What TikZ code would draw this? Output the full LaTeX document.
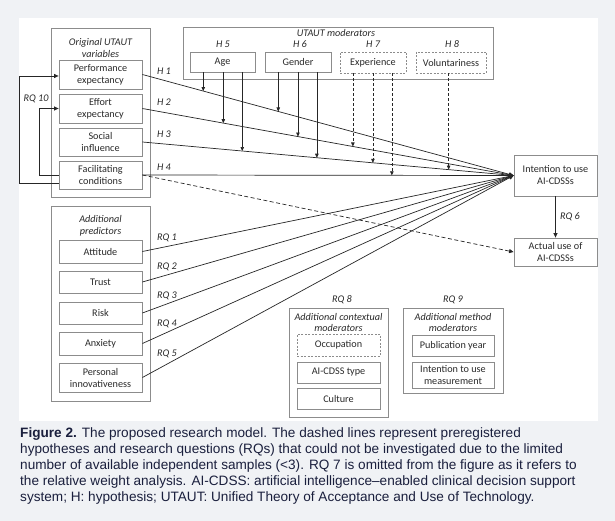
\documentclass[tikz,border=0pt]{standalone}
\usepackage{fontspec}
\setmainfont{Carlito}
\newfontfamily\capfont{Liberation Sans}
\usetikzlibrary{arrows.meta,calc}
\definecolor{bgcol}{HTML}{F0F2F5}
\definecolor{capcol}{HTML}{1A1F3D}
\definecolor{boxcol}{HTML}{8C8C8C}
\definecolor{linecol}{HTML}{262626}
\definecolor{txtcol}{HTML}{2A2A2A}
\begin{document}
\begin{tikzpicture}[x=1pt,y=-1pt,
  grp/.style={draw=boxcol,line width=0.8pt},
  vbox/.style={draw=boxcol,line width=0.8pt,minimum width=83pt,inner sep=1pt,align=center,
    font=\fontsize{10.2}{12}\selectfont,text=txtcol},
  dbox/.style={vbox,dashed,dash pattern=on 2pt off 1.5pt},
  ttl/.style={font=\fontsize{10.2}{11.5}\selectfont\itshape,text=txtcol,align=center,inner sep=0pt},
  lbl/.style={font=\fontsize{10.2}{12}\selectfont\itshape,text=txtcol,inner sep=0pt},
  link/.style={draw=linecol,line width=0.7pt,-{Triangle[length=4.5pt,width=4pt]}},
  dlink/.style={link,dash pattern=on 4pt off 2.5pt},
  marr/.style={draw=linecol,line width=0.7pt,-{Triangle[length=4pt,width=3.5pt]}},
  dmarr/.style={marr,dash pattern=on 3pt off 2pt},
  capline/.style={anchor=base west,inner sep=0pt,text=capcol,font=\capfont\fontsize{13.6}{16}\selectfont}
]
\useasboundingbox (0,0) rectangle (615,521);
\fill[bgcol] (0,0) rectangle (615,521);
\fill[white] (19,18) rectangle (598,421);

% group boxes
\draw[grp] (51,28) rectangle (150,197);
\draw[grp] (51,206) rectangle (150,401);
\draw[grp] (183,27) rectangle (493,79);
\draw[grp] (289,308) rectangle (388,417);
\draw[grp] (403,308) rectangle (503,393);

% group titles
\node[ttl] (t1) at (100.5,48) {Original UTAUT\\variables};
\node[ttl] (t2) at (100.5,226) {Additional\\predictors};
\node[ttl] (t3) at (336,32.5) {UTAUT moderators};
\node[ttl] (t4) at (338.5,322.5) {Additional contextual\\moderators};
\node[ttl] (t5) at (453,322.5) {Additional method\\moderators};

% original UTAUT variables
\node[vbox,minimum height=29pt] (pe) at (100.5,74.5) {Performance\\expectancy};
\node[vbox,minimum height=29pt] (ee) at (100.5,108.5) {Effort\\expectancy};
\node[vbox,minimum height=28pt] (si) at (100.5,142) {Social\\influence};
\node[vbox,minimum height=28pt] (fc) at (100.5,175) {Facilitating\\conditions};

% additional predictors
\node[vbox,minimum height=23pt] (att) at (100.5,251.5) {Attitude};
\node[vbox,minimum height=22pt] (tru) at (100.5,282) {Trust};
\node[vbox,minimum height=22pt] (ris) at (100.5,313) {Risk};
\node[vbox,minimum height=23pt] (anx) at (100.5,343.5) {Anxiety};
\node[vbox,minimum height=29pt] (pin) at (100.5,377.5) {Personal\\innovativeness};

% moderators
\node[vbox,minimum width=65pt,minimum height=20pt] (age) at (222.5,62) {Age};
\node[vbox,minimum width=66pt,minimum height=20pt] (gen) at (298,62) {Gender};
\node[dbox,minimum width=66pt,minimum height=21pt] (exp) at (373,62.5) {Experience};
\node[dbox,minimum width=70pt,minimum height=21pt] (vol) at (451,62.5) {Voluntariness};
\node[lbl] (h5) at (223,44) {H 5};
\node[lbl] (h6) at (300,44) {H 6};
\node[lbl] (h7) at (373,44) {H 7};
\node[lbl] (h8) at (452,44) {H 8};

% outcomes
\node[vbox,minimum height=41pt] (int) at (555.5,175.5) {Intention to use\\AI-CDSSs};
\node[vbox,minimum height=28pt] (act) at (555.5,252) {Actual use of\\AI-CDSSs};

% contextual / method moderators
\node[dbox,minimum height=22pt] (occ) at (338.5,345) {Occupation};
\node[vbox,minimum height=21pt] (typ) at (338.5,372.5) {AI-CDSS type};
\node[vbox,minimum height=21pt] (cul) at (338.5,398.5) {Culture};
\node[vbox,minimum width=82pt,minimum height=21pt] (pub) at (453,345.5) {Publication year};
\node[vbox,minimum width=82pt,minimum height=26pt] (itm) at (453,375) {Intention to use\\measurement};
\node[lbl] (rq8) at (342,300) {RQ 8};
\node[lbl] (rq9) at (453,300) {RQ 9};

% main paths
\draw[link] (pe.east) -- (int.west);
\draw[link] (ee.east) -- (int.west);
\draw[link] (si.east) -- (int.west);
\draw[link] (fc.east) -- (int.west);
\draw[dlink] (fc.east) -- (act.west);
\draw[link] (att.east) -- (int.west);
\draw[link] (tru.east) -- (int.west);
\draw[link] (ris.east) -- (int.west);
\draw[link] (anx.east) -- (int.west);
\draw[link] (pin.east) -- (int.west);
\draw[link] (int.south) -- (act.north);

\node[lbl] (h1) at (164,71) {H 1};
\node[lbl] (h2) at (164,102) {H 2};
\node[lbl] (h3) at (164,134) {H 3};
\node[lbl] (h4) at (164,167) {H 4};
\node[lbl] (rq1) at (167,238) {RQ 1};
\node[lbl] (rq2) at (167,267) {RQ 2};
\node[lbl] (rq3) at (167,295.5) {RQ 3};
\node[lbl] (rq4) at (167,324) {RQ 4};
\node[lbl] (rq5) at (167,354) {RQ 5};
\node[lbl] (rq6) at (570,217) {RQ 6};
\node[lbl] (rq10) at (36,99) {RQ 10};

% RQ 10 feedback
\draw[link] ([yshift=-8pt]fc.west) -- ++(-39,0) |- ([yshift=-1.5pt]pe.west);
\draw[link] (fc.west) -- ++(-19,0) |- (ee.west);

% moderator arrows
\coordinate (a1) at ($(pe.east)!0.164!(int.west)$);
\coordinate (a2) at ($(ee.east)!0.218!(int.west)$);
\coordinate (a3) at ($(si.east)!0.269!(int.west)$);
\coordinate (g1) at ($(pe.east)!0.366!(int.west)$);
\coordinate (g2) at ($(ee.east)!0.419!(int.west)$);
\coordinate (g3) at ($(si.east)!0.470!(int.west)$);
\coordinate (e1) at ($(ee.east)!0.567!(int.west)$);
\coordinate (e2) at ($(si.east)!0.621!(int.west)$);
\coordinate (e3) at ($(fc.east)!0.672!(int.west)$);
\coordinate (v1) at ($(si.east)!0.825!(int.west)$);
\draw[marr] (age.south -| a1) -- (a1);
\draw[marr] (age.south -| a2) -- (a2);
\draw[marr] (age.south -| a3) -- (a3);
\draw[marr] (gen.south -| g1) -- (g1);
\draw[marr] (gen.south -| g2) -- (g2);
\draw[marr] (gen.south -| g3) -- (g3);
\draw[dmarr] (exp.south -| e1) -- (e1);
\draw[dmarr] (exp.south -| e2) -- (e2);
\draw[dmarr] (exp.south -| e3) -- (e3);
\draw[dmarr] (vol.south -| v1) -- (v1);

% caption
\node[capline] (c1) at (20,437) {\textbf{Figure 2.} The proposed research model. The dashed lines represent preregistered};
\node[capline] (c2) at (20,453) {hypotheses and research questions (RQs) that could not be investigated due to the limited};
\node[capline] (c3) at (20,469) {number of available independent samples (<3). RQ 7 is omitted from the figure as it refers to};
\node[capline] (c4) at (20,485) {the relative weight analysis. AI-CDSS: artificial intelligence–enabled clinical decision support};
\node[capline] (c5) at (20,501) {system; H: hypothesis; UTAUT: Unified Theory of Acceptance and Use of Technology.};
\end{tikzpicture}
\end{document}
